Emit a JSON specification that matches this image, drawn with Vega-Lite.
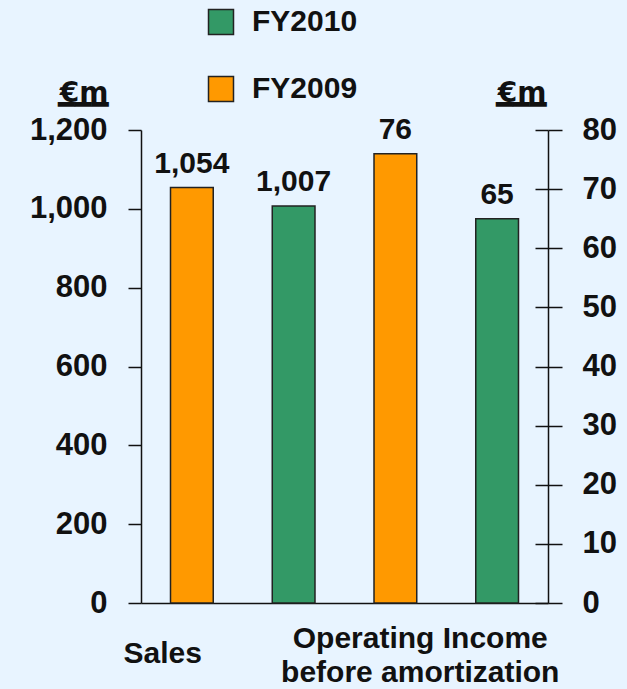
{
  "$schema": "https://vega.github.io/schema/vega-lite/v6.json",
  "width": 407,
  "height": 473,
  "autosize": "none",
  "padding": {"left": 141, "top": 130, "right": 79, "bottom": 86},
  "background": "#E8F4FF",
  "config": {
    "view": {"stroke": null},
    "font": "Liberation Sans",
    "axis": {"grid": false, "domainColor": "#111", "tickColor": "#111", "domainWidth": 1.5, "tickWidth": 1.5, "labelColor": "#111", "titleColor": "#111", "labelFont": "Liberation Sans", "titleFont": "DejaVu Sans", "labelFontWeight": "bold", "titleFontWeight": "bold"}
  },
  "data": {
    "values": [
      {"measure": "Sales", "year": "FY2009", "value": 1054},
      {"measure": "Sales", "year": "FY2010", "value": 1007},
      {"measure": "Operating Income", "year": "FY2009", "value": 76},
      {"measure": "Operating Income", "year": "FY2010", "value": 65}
    ]
  },
  "encoding": {
    "x": {
      "field": "measure",
      "type": "nominal",
      "sort": ["Sales", "Operating Income"],
      "scale": {"domain": ["Sales", "Operating Income"], "paddingInner": 0, "paddingOuter": 0},
      "axis": {
        "title": null,
        "ticks": false,
        "labelAngle": 0,
        "labelFontSize": 30,
        "labelBaseline": "top",
        "labelPadding": {"condition": {"test": "datum.value == 'Sales'", "value": 35}, "value": 20},
        "labelLineHeight": 34,
        "labelLimit": 400,
        "labelOffset": {"condition": {"test": "datum.value == 'Sales'", "value": -80}, "value": -26},
        "labelExpr": "datum.value == 'Operating Income' ? ['Operating Income', 'before amortization'] : datum.label"
      }
    },
    "xOffset": {
      "field": "year",
      "type": "nominal",
      "scale": {"domain": ["FY2009", "FY2010"], "paddingInner": 0.58, "paddingOuter": 0.29}
    }
  },
  "layer": [
    {
      "transform": [{"filter": "datum.measure == 'Sales'"}],
      "encoding": {
        "y": {
          "field": "value",
          "type": "quantitative",
          "scale": {"domain": [0, 1200], "nice": false},
          "axis": {
            "orient": "left",
            "values": [0, 200, 400, 600, 800, 1000, 1200],
            "format": ",d",
            "labelFontSize": 31,
            "labelPadding": 21,
            "tickSize": 13,
            "title": ["€m", "━━━"],
            "titleFontSize": 28,
            "titleLineHeight": 12,
            "titleAngle": 0,
            "titleAlign": "right",
            "titleBaseline": "alphabetic",
            "titleX": -33,
            "titleY": -29
          }
        }
      },
      "layer": [
        {
          "mark": {"type": "bar", "stroke": "#222", "strokeWidth": 1.5},
          "encoding": {
            "color": {
              "field": "year",
              "type": "nominal",
              "scale": {"domain": ["FY2010", "FY2009"], "range": ["#339966", "#FF9900"]},
              "legend": {
                "orient": "none",
                "legendX": 65,
                "legendY": -123,
                "title": null,
                "symbolType": "square",
                "symbolSize": 625,
                "symbolStrokeColor": "#222",
                "symbolStrokeWidth": 1.5,
                "symbolOpacity": 1,
                "labelFont": "Liberation Sans",
                "labelFontSize": 30,
                "labelFontWeight": "bold",
                "labelColor": "#111",
                "labelOffset": 16,
                "rowPadding": 35
              }
            }
          }
        },
        {
          "mark": {"type": "text", "baseline": "alphabetic", "dy": -15, "fontSize": 30, "fontWeight": "bold", "font": "Liberation Sans", "color": "#111"},
          "encoding": {"text": {"field": "value", "type": "quantitative", "format": ",d"}}
        }
      ]
    },
    {
      "transform": [{"filter": "datum.measure == 'Operating Income'"}],
      "encoding": {
        "y": {
          "field": "value",
          "type": "quantitative",
          "scale": {"domain": [0, 80], "nice": false},
          "axis": {
            "orient": "right",
            "values": [0, 10, 20, 30, 40, 50, 60, 70, 80],
            "format": "d",
            "labelFontSize": 31,
            "labelPadding": 20,
            "tickSize": 14,
            "grid": true,
            "gridColor": "#111",
            "gridWidth": 1.5,
            "gridDash": [13, 2000],
            "title": ["€m", "━━━"],
            "titleFontSize": 28,
            "titleLineHeight": 12,
            "titleAngle": 0,
            "titleAlign": "right",
            "titleBaseline": "alphabetic",
            "titleX": -2,
            "titleY": -29
          }
        }
      },
      "layer": [
        {
          "mark": {"type": "bar", "stroke": "#222", "strokeWidth": 1.5},
          "encoding": {
            "color": {"field": "year", "type": "nominal", "scale": {"domain": ["FY2010", "FY2009"], "range": ["#339966", "#FF9900"]}}
          }
        },
        {
          "mark": {"type": "text", "baseline": "alphabetic", "dy": -15, "fontSize": 30, "fontWeight": "bold", "font": "Liberation Sans", "color": "#111"},
          "encoding": {"text": {"field": "value", "type": "quantitative", "format": ",d"}}
        }
      ]
    }
  ],
  "resolve": {"scale": {"y": "independent"}, "axis": {"y": "independent"}}
}
